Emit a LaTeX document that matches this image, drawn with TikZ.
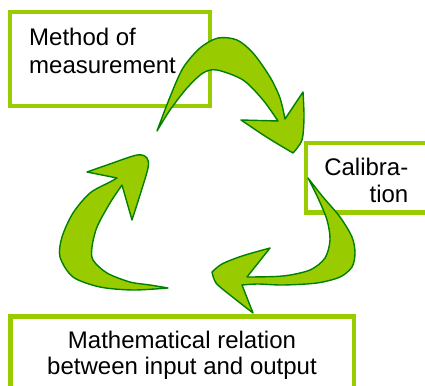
\documentclass[tikz,border=0pt]{standalone}
\usepackage{fontspec}
\setmainfont{Liberation Sans}
\definecolor{lime}{RGB}{153,204,0}
\definecolor{darkgr}{RGB}{0,128,0}
\begin{document}
\begin{tikzpicture}[x=1pt,y=-1pt,
  box/.style={draw=lime,line width=4.5pt,fill=white,rectangle,inner sep=0pt},
  label/.style={inner sep=0pt,font=\fontsize{24}{28}\selectfont},
  arrowshape/.style={fill=lime,draw=darkgr,line width=1.4pt,line join=round}]
\clip (0,0) rectangle (425,385);
% boxes
\node[box,minimum width=200pt,minimum height=94pt] (meth) at (110,59) {};
\node[box,minimum width=140pt,minimum height=69.5pt] (cal) at (376,177.75) {};
\node[box,minimum width=343.5pt,minimum height=100pt] (math) at (182.25,366.5) {};
% texts
\node[label,anchor=north west,align=left] (methtxt) at (29,27.8) {Method of\\measurement};
\node[label,anchor=north east,align=right,font=\fontsize{24}{27}\selectfont] (caltxt) at (408.5,157.8) {Calibra-\\tion};
\node[label,anchor=north,align=center,font=\fontsize{24}{26}\selectfont] (mathtxt) at (182,330.8) {Mathematical relation\\between input and output};
% arrow 1 (top)
\filldraw[arrowshape] (157,131)
 -- plot[smooth] coordinates {(157,131) (170,97) (183,68) (200,48) (218,38) (237,40) (253,53) (270,77) (280,98) (285,119)}
 -- (303,92)
 -- plot[smooth] coordinates {(303,92) (304,117) (302,140) (293,153)}
 -- plot[smooth] coordinates {(293,153) (268,138) (241,120)}
 -- (278,121)
 -- plot[smooth] coordinates {(278,121) (263,100) (243,80) (217,70) (203,73) (187,88) (170,110) (157,131)}
 -- cycle;
% arrow 2 (right)
\filldraw[arrowshape] (308,178)
 -- plot[smooth] coordinates {(308,178) (323,197) (340,217) (352,237) (355,253) (352,267) (340,277) (317,283) (283,285) (258,284) (242,285)}
 -- (253,313)
 -- plot[smooth] coordinates {(253,313) (230,295) (216,283) (212,272)}
 -- plot[smooth] coordinates {(212,272) (222,264) (242,256) (270,248)}
 -- (247,277)
 -- plot[smooth] coordinates {(247,277) (283,276) (310,270) (325,258) (330,240) (327,220) (318,198) (308,178)}
 -- cycle;
% arrow 3 (left)
\filldraw[arrowshape] (168,288)
 -- plot[smooth] coordinates {(168,288) (133,290) (100,287) (73,277) (60,257) (62,237) (73,213) (90,193) (110,182) (117,178)}
 -- (87,172)
 -- plot[smooth] coordinates {(87,172) (107,165) (137,155) (147,158) (148,168) (140,195) (132,220)}
 -- (122,185)
 -- plot[smooth] coordinates {(122,185) (110,203) (97,227) (92,247) (93,260) (107,273) (130,282) (150,285) (168,288)}
 -- cycle;
\end{tikzpicture}
\end{document}
